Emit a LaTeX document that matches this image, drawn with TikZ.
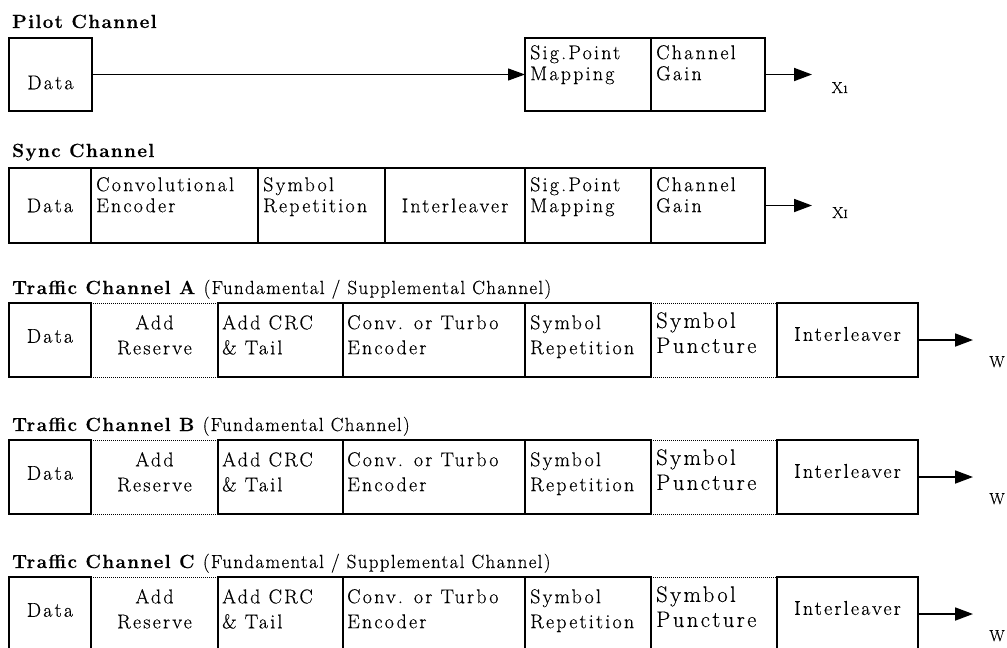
\documentclass[tikz,border=0pt]{standalone}
\usepackage{fontspec}
\setmainfont{Latin Modern Roman}[LetterSpace=7, FakeBold=0.4]
\newfontfamily\bxfont{Latin Modern Roman}[LetterSpace=11, FakeBold=0.4]
\usetikzlibrary{arrows.meta,calc}

\tikzset{
  blk/.style={draw, line width=2pt, inner sep=0pt, outer sep=0pt},
  ghost/.style={inner sep=0pt, outer sep=0pt},
  dotrule/.style={line width=0.9pt, dash pattern=on 1pt off 1pt},
  txt/.style={font=\bxfont\fontsize{20}{21}\selectfont, inner sep=0pt, align=left, anchor=north west},
  ttxt/.style={font=\bxfont\fontsize{20}{25}\selectfont, inner sep=0pt, align=left, anchor=north west},
  ptxt/.style={font=\bxfont\fontsize{22.5}{25}\selectfont, inner sep=0pt, align=left, anchor=north west},
  ctr/.style={font=\bxfont\fontsize{20}{25}\selectfont, inner sep=0pt, align=center},
  ttl/.style={font=\fontsize{19}{21}\selectfont, inner sep=0pt, anchor=base west},
  outl/.style={font=\fontsize{16}{16}\selectfont, inner sep=0pt, anchor=base},
  arr/.style={line width=1.8pt, -{Triangle[length=18pt,width=13pt]}},
  thinarr/.style={line width=1.2pt, -{Triangle[length=17pt,width=12pt]}},
}

% rectangle node from its corners: style, name, left, top, right, bottom
\newcommand\mkbox[6]{%
  \node[#1, minimum width={#5-#3}, minimum height={#6-#4}, anchor=north west] (#2) at (#3,#4) {};}

% one traffic channel row: name prefix, top edge, title
\newcommand\trafficrow[3]{%
  \node[ttl] (#1title) at (12,#2-9) {#3};
  \mkbox{blk}{#1data}{9}{#2}{91}{#2+74}
  \mkbox{ghost}{#1res}{91}{#2}{218}{#2+74}
  \mkbox{blk}{#1crc}{218}{#2}{343}{#2+74}
  \mkbox{blk}{#1enc}{343}{#2}{525}{#2+74}
  \mkbox{blk}{#1rep}{525}{#2}{651}{#2+74}
  \mkbox{ghost}{#1pun}{651}{#2}{777}{#2+74}
  \mkbox{blk}{#1int}{777}{#2}{918}{#2+74}
  \draw[dotrule] (#1res.north west) -- (#1res.north east);
  \draw[dotrule] (#1res.south west) -- (#1res.south east);
  \draw[dotrule] (#1pun.north west) -- (#1pun.north east);
  \draw[dotrule] (#1pun.south west) -- (#1pun.south east);
  \node[ctr] at ($(#1data.center)+(0,-4)$) {Data};
  \node[ctr, anchor=north] at ($(#1res.north)+(0,12)$) {Add\\Reserve};
  \node[ttxt] at ($(#1crc.north west)+(4,12)$) {Add CRC\\\& Tail};
  \node[ttxt] at ($(#1enc.north west)+(4,12)$) {Conv. or Turbo\\Encoder};
  \node[ttxt] at ($(#1rep.north west)+(5,12)$) {Symbol\\Repetition};
  \node[ptxt] at ($(#1pun.north west)+(5,9)$) {Symbol\\Puncture};
  \node[ctr] at ($(#1int.center)+(0,-6)$) {Interleaver};
  \coordinate (#1out) at (973,#2+37);
  \draw[arr] (#1int) -- (#1out);
  \node[outl] (#1w) at (997,#2+64) {W};
}

\begin{document}
\begin{tikzpicture}[x=1pt,y=-1pt]
\useasboundingbox (0,0) rectangle (1007,648);

% pilot channel
\node[ttl] (pilottitle) at (12,28) {\bfseries Pilot Channel};
\mkbox{blk}{pdata}{9}{38}{92}{111}
\mkbox{blk}{psig}{525}{38}{651}{111}
\mkbox{blk}{pgain}{651}{38}{765}{111}
\node[ctr] at ($(pdata.center)+(0,8)$) {Data};
\node[txt] at ($(psig.north west)+(5,7)$) {Sig.Point\\Mapping};
\node[txt] at ($(pgain.north west)+(5,7)$) {Channel\\Gain};
\draw[thinarr] (pdata) -- (psig);
\coordinate (pout) at (812,74.5);
\draw[arr] (pgain) -- (pout);
\node[outl] (px) at (840,93) {X{\fontsize{11}{11}\selectfont 1}};

% sync channel
\node[ttl] (synctitle) at (12,157) {\bfseries Sync Channel};
\mkbox{blk}{sdata}{9}{168}{91}{243}
\mkbox{blk}{senc}{91}{168}{258}{243}
\mkbox{blk}{srep}{258}{168}{385}{243}
\mkbox{blk}{sint}{385}{168}{525}{243}
\mkbox{blk}{ssig}{525}{168}{651}{243}
\mkbox{blk}{sgain}{651}{168}{765}{243}
\node[ctr] at (sdata.center) {Data};
\node[txt] at ($(senc.north west)+(5,9)$) {Convolutional\\Encoder};
\node[txt] at ($(srep.north west)+(5,9)$) {Symbol\\Repetition};
\node[ctr] at (sint.center) {Interleaver};
\node[txt] at ($(ssig.north west)+(5,9)$) {Sig.Point\\Mapping};
\node[txt] at ($(sgain.north west)+(5,9)$) {Channel\\Gain};
\coordinate (sout) at (812,205.5);
\draw[arr] (sgain) -- (sout);
\node[outl] (sx) at (840,218) {X{\fontsize{12}{12}\selectfont I}};

% traffic channels
\trafficrow{a}{303}{\textbf{Traffic Channel A} (Fundamental / Supplemental Channel)}
\trafficrow{b}{440}{\textbf{Traffic Channel B} (Fundamental Channel)}
\trafficrow{c}{577}{\textbf{Traffic Channel C} (Fundamental / Supplemental Channel)}
\end{tikzpicture}
\end{document}
